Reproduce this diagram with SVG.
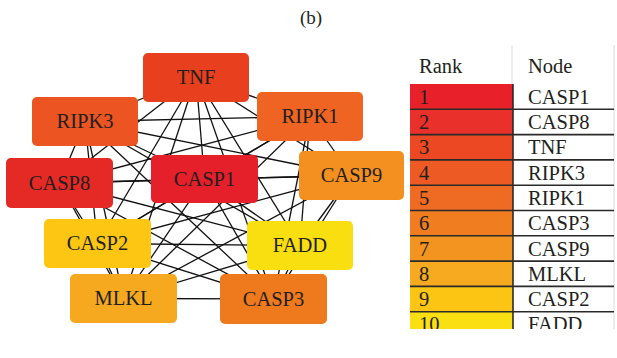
<svg xmlns="http://www.w3.org/2000/svg" width="617" height="358" viewBox="0 0 617 358">
  <style>
    .lbl { font-family: "Liberation Serif", "Times New Roman", serif; font-size: 20.5px; fill: #231f20; }
    .node rect { rx: 5; ry: 5; }
    .edges line { stroke: #111; stroke-width: 1.3; }
    .sep { stroke: #2a2a2a; stroke-width: 1.6; }
  </style>
  <defs>
    <clipPath id="tableClip"><rect x="400" y="40" width="217" height="289"/></clipPath>
  </defs>
  <rect width="617" height="358" fill="#ffffff"/>
  <text class="lbl" x="311" y="24" text-anchor="middle" style="font-size:19px">(b)</text>

  <!-- connectors between node centres -->
  <g id="edges" class="edges">
    <line x1="196" y1="77" x2="85" y2="121.5"/>
    <line x1="196" y1="77" x2="59.5" y2="183"/>
    <line x1="196" y1="77" x2="204.5" y2="179"/>
    <line x1="196" y1="77" x2="310" y2="116.5"/>
    <line x1="196" y1="77" x2="351.5" y2="175.5"/>
    <line x1="196" y1="77" x2="97.5" y2="243.5"/>
    <line x1="196" y1="77" x2="123.5" y2="298.5"/>
    <line x1="196" y1="77" x2="300" y2="245.5"/>
    <line x1="196" y1="77" x2="273.5" y2="299"/>
    <line x1="85" y1="121.5" x2="59.5" y2="183"/>
    <line x1="85" y1="121.5" x2="204.5" y2="179"/>
    <line x1="85" y1="121.5" x2="310" y2="116.5"/>
    <line x1="85" y1="121.5" x2="351.5" y2="175.5"/>
    <line x1="85" y1="121.5" x2="97.5" y2="243.5"/>
    <line x1="85" y1="121.5" x2="123.5" y2="298.5"/>
    <line x1="85" y1="121.5" x2="300" y2="245.5"/>
    <line x1="85" y1="121.5" x2="273.5" y2="299"/>
    <line x1="59.5" y1="183" x2="204.5" y2="179"/>
    <line x1="59.5" y1="183" x2="310" y2="116.5"/>
    <line x1="59.5" y1="183" x2="351.5" y2="175.5"/>
    <line x1="59.5" y1="183" x2="97.5" y2="243.5"/>
    <line x1="59.5" y1="183" x2="123.5" y2="298.5"/>
    <line x1="59.5" y1="183" x2="300" y2="245.5"/>
    <line x1="59.5" y1="183" x2="273.5" y2="299"/>
    <line x1="204.5" y1="179" x2="310" y2="116.5"/>
    <line x1="204.5" y1="179" x2="351.5" y2="175.5"/>
    <line x1="204.5" y1="179" x2="97.5" y2="243.5"/>
    <line x1="204.5" y1="179" x2="123.5" y2="298.5"/>
    <line x1="204.5" y1="179" x2="300" y2="245.5"/>
    <line x1="204.5" y1="179" x2="273.5" y2="299"/>
    <line x1="310" y1="116.5" x2="351.5" y2="175.5"/>
    <line x1="310" y1="116.5" x2="97.5" y2="243.5"/>
    <line x1="310" y1="116.5" x2="123.5" y2="298.5"/>
    <line x1="310" y1="116.5" x2="300" y2="245.5"/>
    <line x1="310" y1="116.5" x2="273.5" y2="299"/>
    <line x1="351.5" y1="175.5" x2="97.5" y2="243.5"/>
    <line x1="351.5" y1="175.5" x2="123.5" y2="298.5"/>
    <line x1="351.5" y1="175.5" x2="300" y2="245.5"/>
    <line x1="351.5" y1="175.5" x2="273.5" y2="299"/>
    <line x1="97.5" y1="243.5" x2="123.5" y2="298.5"/>
    <line x1="97.5" y1="243.5" x2="300" y2="245.5"/>
    <line x1="97.5" y1="243.5" x2="273.5" y2="299"/>
    <line x1="123.5" y1="298.5" x2="300" y2="245.5"/>
    <line x1="123.5" y1="298.5" x2="273.5" y2="299"/>
    <line x1="300" y1="245.5" x2="273.5" y2="299"/>
  </g>

  <!-- nodes -->
  <g id="TNF" class="node"><rect x="143" y="53" width="106" height="49" fill="#e8401f"/><text class="lbl" x="196" y="84" text-anchor="middle">TNF</text></g>
  <g id="RIPK3" class="node"><rect x="32" y="97" width="106" height="49" fill="#ec5522"/><text class="lbl" x="85" y="128" text-anchor="middle">RIPK3</text></g>
  <g id="RIPK1" class="node"><rect x="257" y="92" width="106" height="49" fill="#ef6422"/><text class="lbl" x="310" y="123" text-anchor="middle">RIPK1</text></g>
  <g id="CASP8" class="node"><rect x="6" y="158" width="107" height="50" fill="#e52a25"/><text class="lbl" x="59.5" y="190" text-anchor="middle">CASP8</text></g>
  <g id="CASP1" class="node"><rect x="151" y="155" width="107" height="48" fill="#e5202b"/><text class="lbl" x="204.5" y="186" text-anchor="middle">CASP1</text></g>
  <g id="CASP9" class="node"><rect x="299" y="151" width="105" height="49" fill="#f39020"/><text class="lbl" x="351.5" y="182" text-anchor="middle">CASP9</text></g>
  <g id="CASP2" class="node"><rect x="44" y="219" width="107" height="49" fill="#fcc613"/><text class="lbl" x="97.5" y="250" text-anchor="middle">CASP2</text></g>
  <g id="FADD" class="node"><rect x="247" y="221" width="106" height="49" fill="#fadf10"/><text class="lbl" x="300" y="252" text-anchor="middle">FADD</text></g>
  <g id="MLKL" class="node"><rect x="70" y="274" width="107" height="49" fill="#f6a91e"/><text class="lbl" x="123.5" y="305" text-anchor="middle">MLKL</text></g>
  <g id="CASP3" class="node"><rect x="220" y="274" width="107" height="50" fill="#ef7a1e"/><text class="lbl" x="273.5" y="306" text-anchor="middle">CASP3</text></g>

  <!-- ranking table -->
  <g id="table" clip-path="url(#tableClip)">
    <line x1="512" y1="45" x2="512" y2="84" stroke="#e6e6e6" stroke-width="1.5"/>
    <line x1="614" y1="45" x2="614" y2="329" stroke="#e6e6e6" stroke-width="1.5"/>
    <text class="lbl" x="419" y="73">Rank</text>
    <text class="lbl" x="528" y="73">Node</text>
    <rect x="410" y="84" width="103" height="25.3" fill="#e8202a"/>
    <rect x="410" y="109.3" width="103" height="25.3" fill="#e9302a"/>
    <rect x="410" y="134.6" width="103" height="25.3" fill="#eb4823"/>
    <rect x="410" y="159.9" width="103" height="25.3" fill="#ed5a24"/>
    <rect x="410" y="185.2" width="103" height="25.3" fill="#ef6a23"/>
    <rect x="410" y="210.5" width="103" height="25.3" fill="#f07d20"/>
    <rect x="410" y="235.8" width="103" height="25.3" fill="#f39421"/>
    <rect x="410" y="261.1" width="103" height="25.3" fill="#f7a91f"/>
    <rect x="410" y="286.4" width="103" height="25.3" fill="#fcc513"/>
    <rect x="410" y="311.7" width="103" height="17.3" fill="#fae012"/>
    <line class="sep" x1="513" y1="84" x2="513" y2="329"/>
    <line class="sep" x1="410" y1="109.3" x2="614" y2="109.3"/>
    <line class="sep" x1="410" y1="134.6" x2="614" y2="134.6"/>
    <line class="sep" x1="410" y1="159.9" x2="614" y2="159.9"/>
    <line class="sep" x1="410" y1="185.2" x2="614" y2="185.2"/>
    <line class="sep" x1="410" y1="210.5" x2="614" y2="210.5"/>
    <line class="sep" x1="410" y1="235.8" x2="614" y2="235.8"/>
    <line class="sep" x1="410" y1="261.1" x2="614" y2="261.1"/>
    <line class="sep" x1="410" y1="286.4" x2="614" y2="286.4"/>
    <line class="sep" x1="410" y1="311.7" x2="614" y2="311.7"/>
    <g class="lbl">
      <text x="419" y="104">1</text><text x="528" y="104">CASP1</text>
      <text x="419" y="129">2</text><text x="528" y="129">CASP8</text>
      <text x="419" y="154">3</text><text x="528" y="154">TNF</text>
      <text x="419" y="180">4</text><text x="528" y="180">RIPK3</text>
      <text x="419" y="205">5</text><text x="528" y="205">RIPK1</text>
      <text x="419" y="230">6</text><text x="528" y="230">CASP3</text>
      <text x="419" y="256">7</text><text x="528" y="256">CASP9</text>
      <text x="419" y="281">8</text><text x="528" y="281">MLKL</text>
      <text x="419" y="306">9</text><text x="528" y="306">CASP2</text>
      <text x="419" y="331">10</text><text x="528" y="331">FADD</text>
    </g>
  </g>
</svg>
